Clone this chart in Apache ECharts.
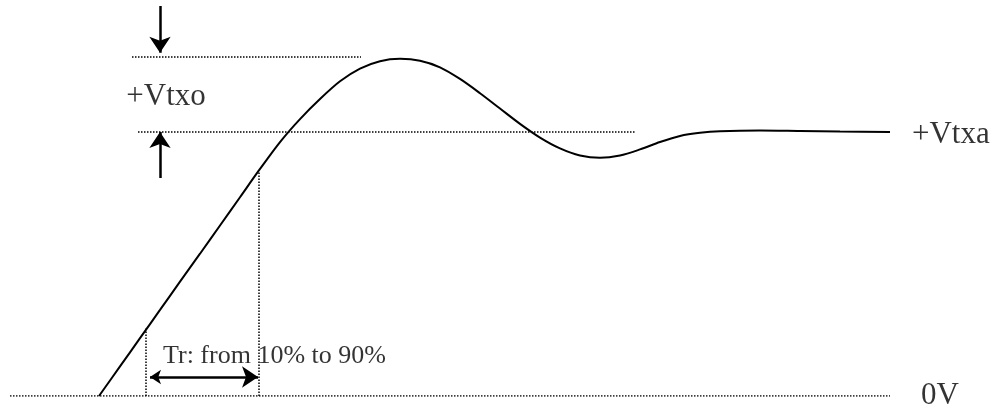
<!DOCTYPE html>
<html>
<head>
<meta charset="utf-8">
<script src="https://cdn.jsdelivr.net/npm/echarts@6/dist/echarts.min.js"></script>
<style>
  html, body { margin: 0; padding: 0; background: #fff; }
  #main { width: 997px; height: 414px; }
</style>
</head>
<body>
<div id="main"></div>
<script>
// time in arbitrary units, voltage normalised so that +Vtxa = 1
const timeAxis = [9.9, 12, 14, 16, 18, 20, 22, 24, 26, 28, 30, 32, 34, 36, 38, 40, 42, 44, 46, 48, 50, 52, 54, 56, 58, 60, 62, 64, 66, 68, 70, 72, 76, 80, 84, 89];
const voltage  = [0, 0.112, 0.219, 0.326, 0.433, 0.539, 0.646, 0.753, 0.860, 0.962, 1.049, 1.125, 1.192, 1.240, 1.268, 1.277, 1.270, 1.245, 1.201, 1.147, 1.089, 1.031, 0.979, 0.938, 0.911, 0.902, 0.911, 0.934, 0.962, 0.985, 0.997, 1.003, 1.006, 1.004, 1.002, 1.0];

// dotted reference lines [x1, y1, x2, y2]
const zeroLine = [1.0, 0, 89.0, 0];
const overshootLine = [13.2, 1.284, 36.1, 1.284];
const vtxaLine = [13.8, 1.0, 63.5, 1.0];
const trStart = [14.6, 0, 14.6, 0.261];
const trEnd = [25.9, 0, 25.9, 0.848];

// arrows [x1, y1, x2, y2]
const arrowDown = [16.0, 1.477, 16.0, 1.30];
const arrowUp = [16.0, 0.826, 16.0, 1.0];
const riseArrow = [15.0, 0.072, 25.8, 0.072];

// labels [x, y, text, align]
const labels = [
  [16.6, 1.133, '+Vtxo', 'center'],
  [91.2, 0.989, '+Vtxa', 'left'],
  [92.1, 0.0, '0V', 'left'],
  [16.3, 0.15, 'Tr: from 10% to 90%', 'left']
];

const chart = echarts.init(document.getElementById('main'));

const dotted = { color: '#000', width: 1.5, type: [1.5, 1.5] };
function seg(s) { return [[s[0], s[1]], [s[2], s[3]]]; }

const curveData = timeAxis.map((t, i) => [t, voltage[i]]);

const option = {
  backgroundColor: '#fff',
  animation: false,
  grid: { left: 0, right: 0, top: 0, bottom: 18 },
  xAxis: { type: 'value', min: 0, max: 99.7, show: false },
  yAxis: { type: 'value', min: 0, max: 1.5, show: false },
  series: [
    {
      type: 'lines',
      coordinateSystem: 'cartesian2d',
      symbol: 'none',
      lineStyle: Object.assign({ opacity: 1 }, dotted),
      silent: true,
      data: [zeroLine, overshootLine, vtxaLine, trStart, trEnd].map(s => ({ coords: seg(s) }))
    },
    {
      type: 'line',
      data: curveData,
      smooth: 0.3,
      showSymbol: false,
      clip: false,
      lineStyle: { color: '#000', width: 2 }
    },
    {
      type: 'lines',
      coordinateSystem: 'cartesian2d',
      symbol: ['none', 'arrow'],
      symbolSize: [11, 16],
      lineStyle: { color: '#000', width: 2.5, opacity: 1 },
      data: [arrowDown, arrowUp].map(s => ({ coords: seg(s) }))
    },
    {
      type: 'lines',
      coordinateSystem: 'cartesian2d',
      symbol: ['arrow', 'arrow'],
      symbolSize: [11, 16],
      lineStyle: { color: '#000', width: 2.5, opacity: 1 },
      data: [{ coords: seg(riseArrow) }]
    },
    {
      type: 'scatter',
      symbolSize: 0,
      clip: false,
      silent: true,
      data: labels.map(l => ({
        value: [l[0], l[1]],
        label: {
          show: true,
          formatter: l[2],
          position: l[3] === 'center' ? 'inside' : 'right',
          distance: 0,
          color: '#000',
          fontFamily: 'Liberation Serif',
          fontSize: l[2].length > 6 ? 26 : 31
        }
      }))
    }
  ]
};

chart.setOption(option);
</script>
</body>
</html>
